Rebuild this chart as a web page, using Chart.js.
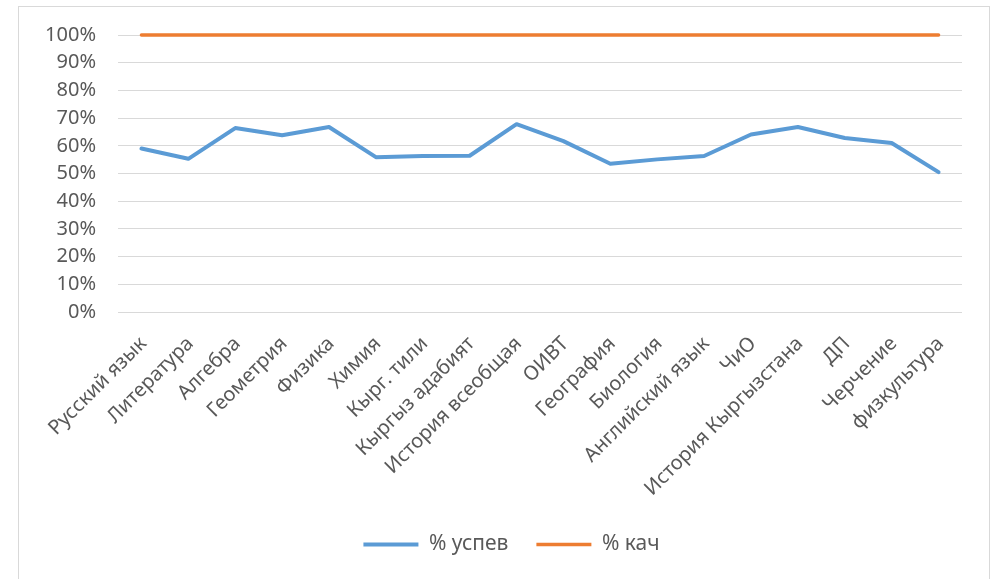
<!DOCTYPE html>
<html>
<head>
<meta charset="utf-8">
<script src="https://cdn.jsdelivr.net/npm/chart.js@4"></script>
<style>
  html, body { margin: 0; padding: 0; background: #ffffff; }
  #frame {
    position: absolute; left: 18px; top: 6px; width: 970px; height: 600px;
    border: 1px solid #d9d9d9; background: #fff;
  }
  #wrap { position: absolute; left: 0; top: -6px; width: 970px; height: 578px; }
</style>
</head>
<body>
<div id="frame"><div id="wrap"><canvas id="chart"></canvas></div></div>
<script>
var subjects = ['Русский язык', 'Литература', 'Алгебра', 'Геометрия', 'Физика', 'Химия', 'Кырг. тили',
    'Кыргыз адабият', 'История всеобщая', 'ОИВТ', 'География', 'Биология', 'Английский язык', 'ЧиО',
    'История Кыргызстана', 'ДП', 'Черчение', 'физкультура'];

// percent values
var uspevData = [59, 55.3, 66.4, 63.8, 66.8, 55.9, 56.3, 56.4, 67.8, 61.7, 53.5, 55.1, 56.3, 64.1, 66.8, 62.8, 61, 50.5];

var kachData = [100, 100, 100, 100, 100, 100, 100, 100, 100, 100, 100, 100, 100, 100, 100, 100, 100, 100];

var yTicks = ['0%', '10%', '20%', '30%', '40%', '50%', '60%', '70%', '80%', '90%', '100%'];

var ctx = document.getElementById('chart').getContext('2d');
var font = 'Noto Sans';

// nudge the legend a bit right, like the excel one
var legendShift = {
    id: 'legendShift',
    afterLayout: function (chart) {
        chart.legend.left += 21;
        chart.legend.right += 21;
    }
};

new Chart(ctx, {
    type: 'line',
    data: {
        labels: subjects,
        datasets: [
            {
                label: '% успев',
                data: uspevData,
                borderColor: '#5b9bd5',
                backgroundColor: '#5b9bd5',
                borderWidth: 4,
                pointRadius: 0,
                borderCapStyle: 'round',
                borderJoinStyle: 'round',
                tension: 0,
                clip: false
            },
            {
                label: '% кач',
                data: kachData,
                borderColor: '#ed7d31',
                backgroundColor: '#ed7d31',
                borderWidth: 3.5,
                pointRadius: 0,
                borderCapStyle: 'round',
                tension: 0,
                clip: false
            }
        ]
    },
    plugins: [legendShift],
    options: {
        responsive: true,
        maintainAspectRatio: false,
        animation: false,
        layout: { padding: { left: 0, right: 27, top: 19, bottom: 14 } },
        plugins: {
            legend: {
                position: 'bottom',
                labels: {
                    usePointStyle: true,
                    pointStyle: 'line',
                    pointStyleWidth: 55,
                    boxWidth: 55,
                    color: '#595959',
                    padding: 28,
                    font: { family: font, size: 21 }
                }
            },
            tooltip: { enabled: false }
        },
        scales: {
            y: {
                min: 0,
                max: 100,
                afterFit: function (scale) { scale.width = 99; },
                afterBuildTicks: function (scale) {
                    scale.ticks = yTicks.map(function (t, i) { return { value: i * 10 }; });
                },
                ticks: {
                    color: '#595959',
                    padding: 22,
                    autoSkip: false,
                    font: { family: font, size: 20 },
                    callback: function (value, index) { return yTicks[index]; }
                },
                grid: { color: '#d9d9d9', lineWidth: 1, drawTicks: false },
                border: { display: false }
            },
            x: {
                offset: true,
                afterFit: function (scale) { scale.height = 194; },
                ticks: {
                    color: '#595959',
                    minRotation: 45,
                    maxRotation: 45,
                    autoSkip: false,
                    padding: 12,
                    labelOffset: 2,
                    font: { family: font, size: 20 }
                },
                grid: { display: false, offset: false },
                border: { display: false }
            }
        }
    }
});
</script>
</body>
</html>
